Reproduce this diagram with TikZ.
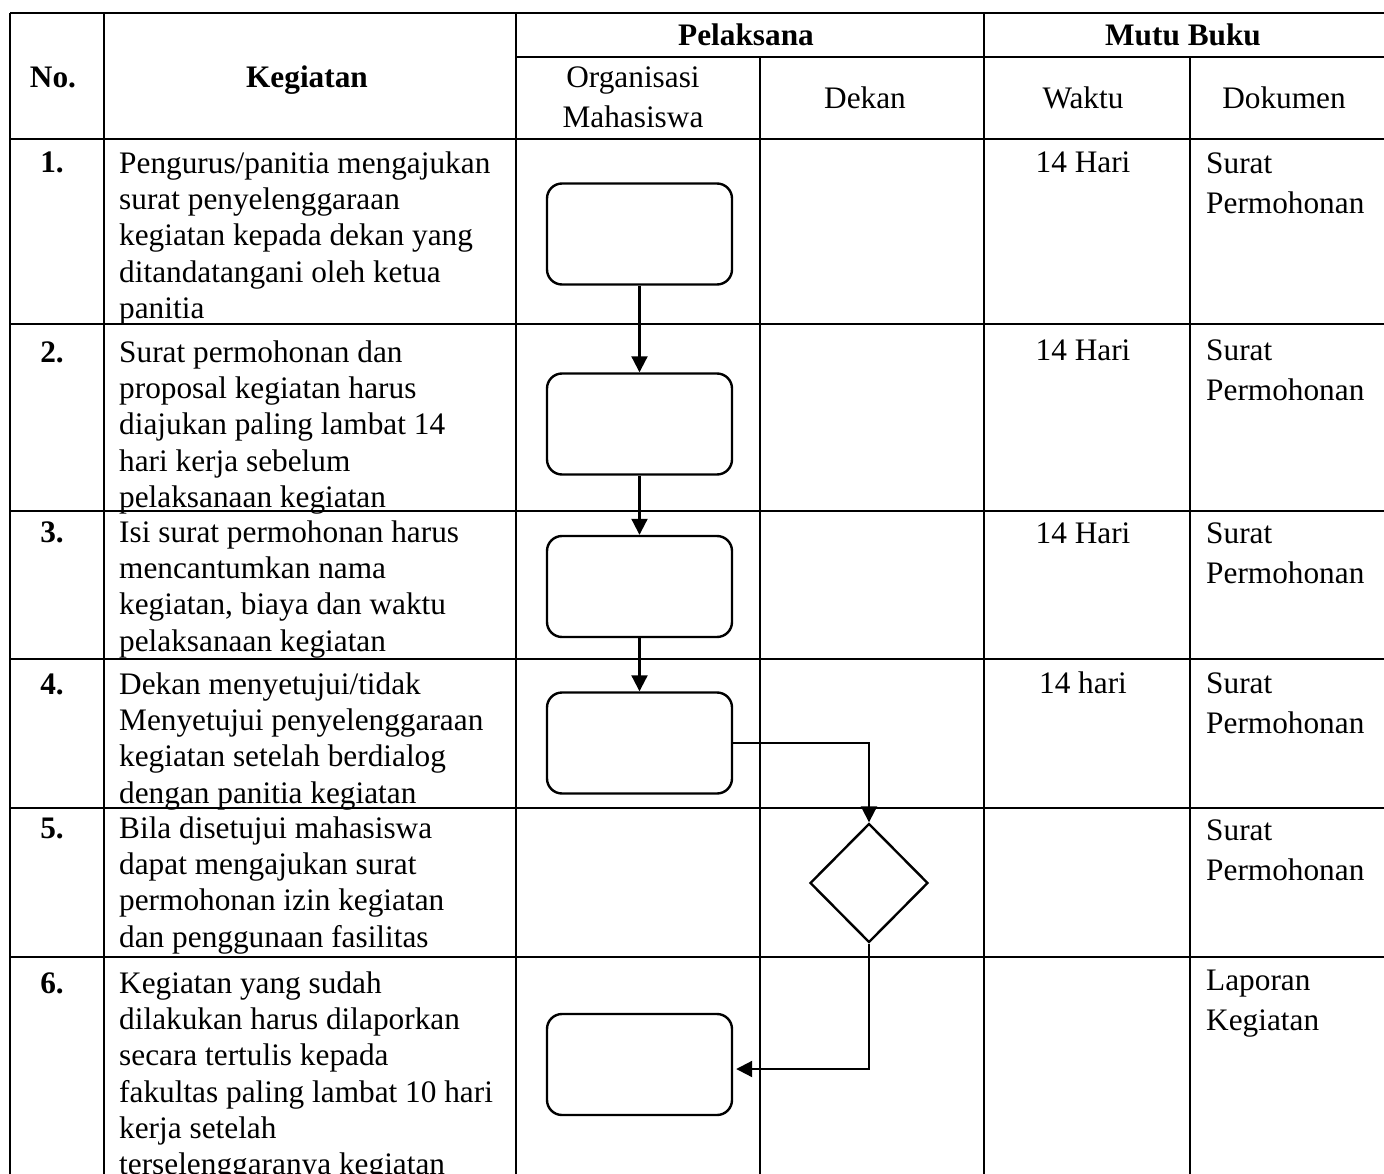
\documentclass[tikz,border=0pt]{standalone}
\usepackage{fontspec}
\setmainfont{Liberation Serif}
\usetikzlibrary{shapes.geometric,arrows.meta}

\begin{document}
\begin{tikzpicture}[x=1pt,y=-1pt,
  gridline/.style={line width=2.4pt},
  txt/.style={inner sep=0pt, anchor=north west, yshift=25.41pt, align=left,
              font=\fontsize{31.3}{36.3}\selectfont},
  doc/.style={inner sep=0pt, anchor=north west, yshift=28pt, align=left,
              font=\fontsize{31.3}{40}\selectfont},
  one/.style={inner sep=0pt, anchor=base, font=\fontsize{31.3}{36.3}\selectfont},
  hdr/.style={inner sep=0pt, anchor=base, font=\fontsize{31.3}{36.3}\selectfont\bfseries},
  hdrtwo/.style={inner sep=0pt, anchor=north, yshift=28pt, align=center,
              font=\fontsize{31.3}{40}\selectfont},
  stepbox/.style={draw, line width=2.4pt, rounded corners=15pt, minimum width=185pt,
              minimum height=101pt, inner sep=0pt},
  decision/.style={draw, shape=diamond, line width=2.4pt, inner sep=0pt,
              minimum width=118pt, minimum height=119pt},
  conn/.style={line width=2.1pt, -{Triangle[length=16pt,width=16pt]}}
]
\useasboundingbox (0,0) rectangle (1384,1174);
\clip (0,0) rectangle (1384,1174);

% table grid
\draw[gridline] (10,13) -- (1384,13);
\draw[gridline] (516,57) -- (1384,57);
\foreach \yy in {139,324,511,659,808,957}
  \draw[gridline] (10,\yy) -- (1384,\yy);
\foreach \xx in {10,104,516,984}
  \draw[gridline] (\xx,13) -- (\xx,1180);
\foreach \xx in {760,1190}
  \draw[gridline] (\xx,57) -- (\xx,1180);

% header
\node[hdr] (hno) at (53,88) {No.};
\node[hdr] (hkeg) at (307,88) {Kegiatan};
\node[hdr] (hpel) at (746,46) {Pelaksana};
\node[hdr] (hmutu) at (1183,46) {Mutu Buku};
\node[hdrtwo] (horg) at (633,87) {\strut Organisasi\\Mahasiswa};
\node[one] (hdek) at (865,109) {Dekan};
\node[one] (hwak) at (1083,109) {Waktu};
\node[one] (hdok) at (1284,109) {Dokumen};

% numbers
\node[hdr] (n1) at (52,173) {1.};
\node[hdr] (n2) at (52,362) {2.};
\node[hdr] (n3) at (52,542) {3.};
\node[hdr] (n4) at (52,694) {4.};
\node[hdr] (n5) at (52,838) {5.};
\node[hdr] (n6) at (52,993) {6.};

% activities
\node[txt] (k1) at (119,173) {\strut Pengurus/panitia mengajukan\\surat penyelenggaraan\\kegiatan kepada dekan yang\\ditandatangani oleh ketua\\panitia};
\node[txt] (k2) at (119,362) {\strut Surat permohonan dan\\proposal kegiatan harus\\diajukan paling lambat 14\\hari kerja sebelum\\pelaksanaan kegiatan};
\node[txt] (k3) at (119,542) {\strut Isi surat permohonan harus\\mencantumkan nama\\kegiatan, biaya dan waktu\\pelaksanaan kegiatan};
\node[txt] (k4) at (119,694) {\strut Dekan menyetujui/tidak\\Menyetujui penyelenggaraan\\kegiatan setelah berdialog\\dengan panitia kegiatan};
\node[txt] (k5) at (119,838) {\strut Bila disetujui mahasiswa\\dapat mengajukan surat\\permohonan izin kegiatan\\dan penggunaan fasilitas};
\node[txt] (k6) at (119,993) {\strut Kegiatan yang sudah\\dilakukan harus dilaporkan\\secara tertulis kepada\\fakultas paling lambat 10 hari\\kerja setelah\\terselenggaranya kegiatan};

% waktu
\node[one] (w1) at (1083,173) {14 Hari};
\node[one] (w2) at (1083,360) {14 Hari};
\node[one] (w3) at (1083,543) {14 Hari};
\node[one] (w4) at (1083,693) {14 hari};

% dokumen
\node[doc] (d1) at (1206,173) {\strut Surat\\Permohonan};
\node[doc] (d2) at (1206,360) {\strut Surat\\Permohonan};
\node[doc] (d3) at (1206,543) {\strut Surat\\Permohonan};
\node[doc] (d4) at (1206,693) {\strut Surat\\Permohonan};
\node[doc] (d5) at (1206,840) {\strut Surat\\Permohonan};
\node[doc] (d6) at (1206,990) {\strut Laporan\\Kegiatan};

% flow
\node[stepbox] (b1) at (639.5,234) {};
\node[stepbox] (b2) at (639.5,424) {};
\node[stepbox] (b3) at (639.5,586.5) {};
\node[stepbox] (b4) at (639.5,743) {};
\node[decision] (dia) at (869,883) {};
\node[stepbox] (b6) at (639.5,1064.5) {};

\draw[conn] (b1) -- (b2);
\draw[conn] (b2) -- (b3);
\draw[conn] (b3) -- (b4);
\draw[conn] (b4.east) -| (dia.north);
\coordinate (b6in) at ([xshift=3pt,yshift=-4.5pt]b6.east);
\draw[conn] (dia.south) |- (b6in);
\end{tikzpicture}
\end{document}
